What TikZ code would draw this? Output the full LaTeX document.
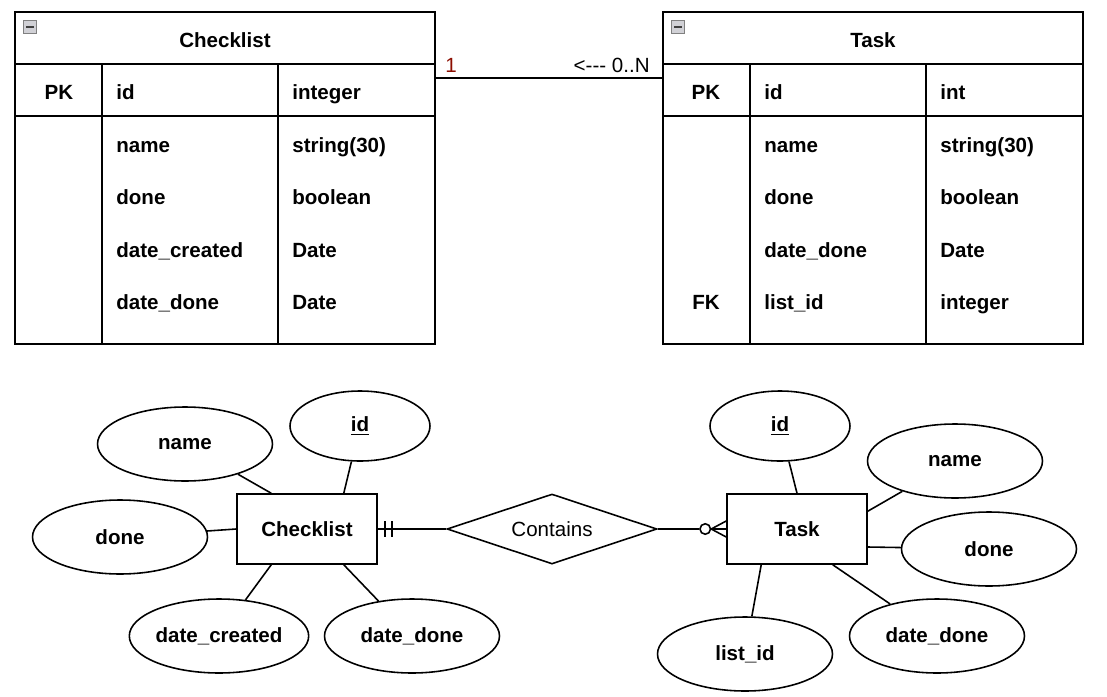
\documentclass[tikz,border=0pt]{standalone}
\usepackage{fontspec}
\setmainfont{Liberation Sans}
\usepackage{tikz}
\usetikzlibrary{calc, positioning, shapes.geometric}
\definecolor{darkred}{rgb}{0.55, 0.05, 0.0}
\definecolor{icongray}{rgb}{0.82, 0.82, 0.84}

\tikzset{
	tabline/.style={line width=0.9pt},
	link/.style={line width=0.9pt},
	cell/.style={font=\bfseries, anchor=base west, inner sep=0pt},
	keycell/.style={font=\bfseries, anchor=base, inner sep=0pt},
	attr/.style={draw, ellipse, line width=0.9pt, inner sep=0pt, minimum width=3.5cm, minimum height=1.48cm, font=\bfseries},
	entity/.style={draw, rectangle, line width=0.9pt, minimum width=2.8cm, minimum height=1.4cm, font=\bfseries},
}

\begin{document}
\fontsize{11.7}{14}\selectfont
\begin{tikzpicture}[x=0.02cm, y=-0.02cm]
	\useasboundingbox (0,0) rectangle (1107,697);

	% tables:
	\node[draw, tabline, minimum width=8.4cm, minimum height=6.64cm, inner sep=0pt] (chktab) at (225,178) {};
	\node[draw, tabline, minimum width=8.4cm, minimum height=6.64cm, inner sep=0pt] (tasktab) at (873,178) {};
	\foreach \dx in {0,648}{
		\draw [tabline] (15+\dx,64)--(435+\dx,64);
		\draw [tabline] (15+\dx,116)--(435+\dx,116);
		\draw [tabline] (102+\dx,64)--(102+\dx,344);
		\draw [tabline] (278+\dx,64)--(278+\dx,344);
		% collapse icon
		\draw [fill=icongray, draw=gray] (23.5+\dx,20.5) rectangle (36.5+\dx,33.5);
		\draw [line width=1.3pt, black!75] (26+\dx,27)--(34+\dx,27);
	}
	\node[keycell] (chk-title) at (225,47) {Checklist};
	\node[keycell] (task-title) at (873,47) {Task};
	\node[keycell] (chk-pk) at (59,99) {PK};
	\node[keycell] (task-pk) at (706,99) {PK};
	\node[keycell] (task-fk) at (706,309) {FK};
	\foreach \y/\n/\a/\b in {99/1/id/integer, 152/2/name/string(30), 204/3/done/boolean, 257/4/date\_created/Date, 309/5/date\_done/Date}{
		\node[cell] (chk-a\n) at (116,\y) {\a};
		\node[cell] (chk-b\n) at (292,\y) {\b};
	}
	\foreach \y/\n/\a/\b in {99/1/id/int, 152/2/name/string(30), 204/3/done/boolean, 257/4/date\_done/Date, 309/5/list\_id/integer}{
		\node[cell] (task-a\n) at (764,\y) {\a};
		\node[cell] (task-b\n) at (940,\y) {\b};
	}
	% relation between the tables
	\draw [link] (chktab.east |- 0,78)--(tasktab.west |- 0,78);
	\node[anchor=base west, text=darkred, inner sep=0pt] (one) at (445,72) {1};
	\node[anchor=base east, inner sep=0pt] (many) at (650,72) {<-\kern0pt-\kern0pt- 0..N};

	% ER diagram:
	\node[entity] (chk) at (307,529) {Checklist};
	\node[entity] (task) at (797,529) {Task};
	\node[draw, diamond, aspect=3, line width=0.9pt, inner sep=0pt, minimum width=4.2cm, minimum height=1.4cm] (rel) at (552,529) {Contains};

	\node[attr] (c-name) at (185,444) {name};
	\node[attr, minimum width=2.8cm, minimum height=1.4cm] (c-id) at (360,426) {\underline{id}};
	\node[attr] (c-done) at (120,537) {done};
	\node[attr, minimum width=3.56cm] (c-created) at (219,636) {date\_created};
	\node[attr] (c-donedate) at (412,636) {date\_done};

	\node[attr, minimum width=2.8cm, minimum height=1.4cm] (t-id) at (780,426) {\underline{id}};
	\node[attr] (t-name) at (955,461) {name};
	\node[attr] (t-done) at (989,549) {done};
	\node[attr] (t-donedate) at (937,636) {date\_done};
	\node[attr] (t-list) at (745,654) {list\_id};

	% attribute links
	\draw [link] (c-name)--($(chk.north west)+(35,0)$);
	\draw [link] (c-id)--($(chk.north east)+(-34,0)$);
	\draw [link] (c-done)--(chk.west);
	\draw [link] (c-created)--($(chk.south west)+(35,0)$);
	\draw [link] (c-donedate)--($(chk.south east)+(-34,0)$);
	\draw [link] (t-id)--(task.north);
	\draw [link] (t-name)--($(task.north east)+(0,18)$);
	\draw [link] (t-done)--($(task.east)+(0,18)$);
	\draw [link] (t-donedate)--($(task.south east)+(-35,0)$);
	\draw [link] (t-list)--($(task.south west)+(35,0)$);

	% exactly one (bars)
	\draw [link] (chk.east)--(rel.west);
	\draw [link] ($(chk.east)+(7,-8)$)--($(chk.east)+(7,8)$);
	\draw [link] ($(chk.east)+(14,-8)$)--($(chk.east)+(14,8)$);
	% zero or many (crow's foot)
	\node[draw, circle, line width=0.9pt, fill=white, inner sep=0pt, minimum size=0.21cm] (zero) at ($(task.west)+(-21,0)$) {};
	\coordinate (foot) at ($(task.west)+(-15,0)$);
	\draw [link] (rel.east)--(zero);
	\draw [link] (zero)--(task.west);
	\draw [link] (foot)--($(task.west)+(0,-8)$);
	\draw [link] (foot)--($(task.west)+(0,8)$);
\end{tikzpicture}
\end{document}
